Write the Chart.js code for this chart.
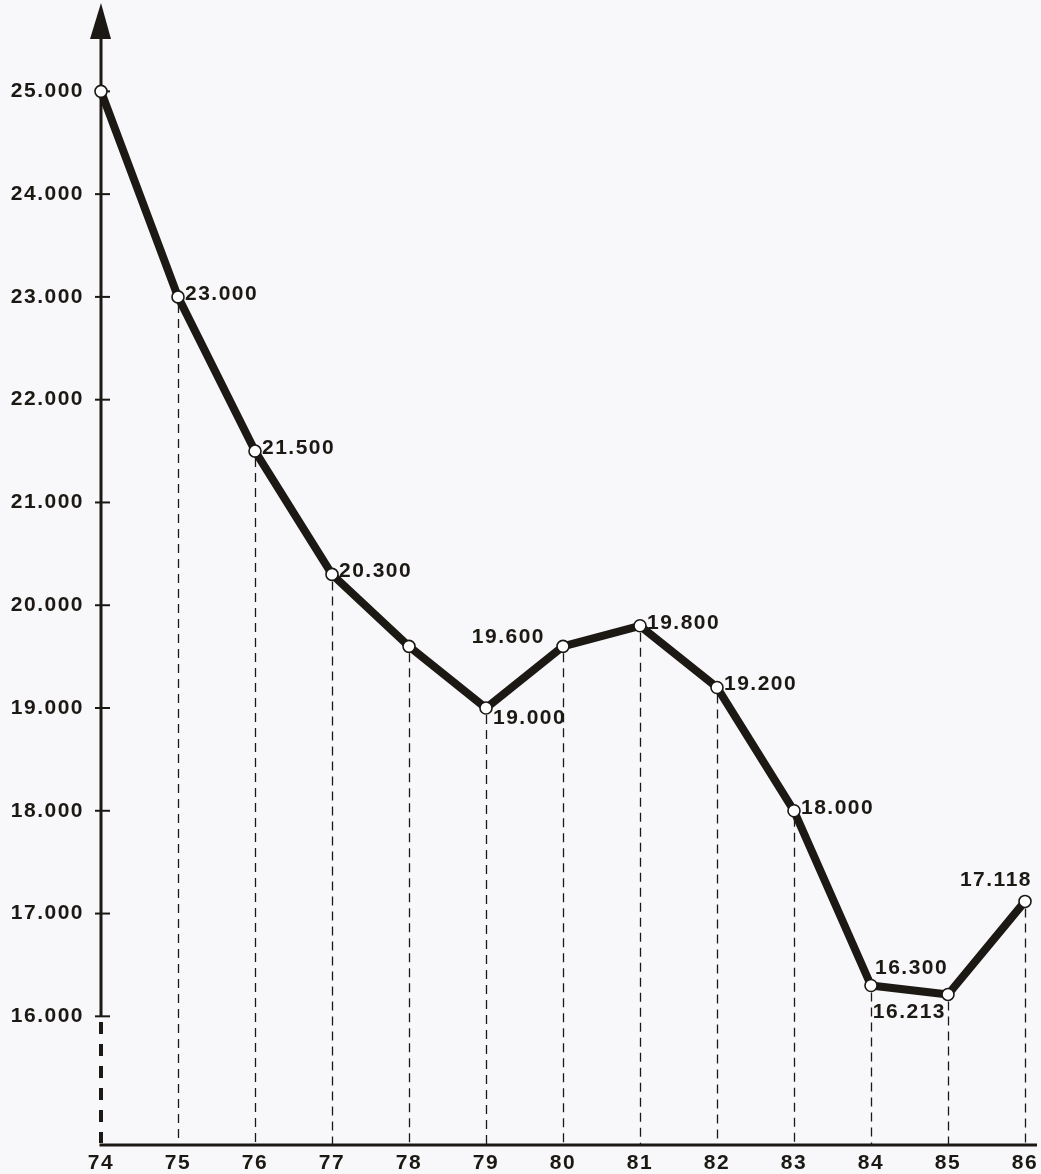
<!DOCTYPE html>
<html><head><meta charset="utf-8">
<script src="https://cdn.jsdelivr.net/npm/chart.js@4/dist/chart.umd.min.js"></script>
<style>html,body{margin:0;padding:0;background:#f8f7fa}canvas{display:block}</style>
</head><body><canvas id="c" width="1041" height="1174"></canvas>
<script>
// ---- data ----
const years = [74, 75, 76, 77, 78, 79, 80, 81, 82, 83, 84, 85, 86];
const values = [25000, 23000, 21500, 20300, 19600, 19000, 19600, 19800, 19200, 18000, 16300, 16213, 17118];
const yTickValues = [16000, 17000, 18000, 19000, 20000, 21000, 22000, 23000, 24000, 25000];
const labeledPoints = [false, true, true, true, false, true, true, true, true, true, true, true, true];

// ---- helpers ----
function fmt(v) { return String(v).replace(/\B(?=(\d{3})+(?!\d))/g, '.'); }
const INK = '#1c1915';
const FONT = 'bold 21px "Liberation Sans", Arial, sans-serif';
const SPACING = '1.5px';
// label placement (presentation only)
const placement = ['', 'r', 'r', 'r', '', 'br', 'al', 'r', 'r', 'r', 'ar', 'bl', 'a'];

const axesPlugin = {
  id: 'axesPlugin',
  afterDraw(chart) {
    const ctx = chart.ctx, xs = chart.scales.x, ys = chart.scales.y, ca = chart.chartArea;
    const x0 = Math.round(xs.getPixelForValue(years[0]));
    const yBase = Math.round(ca.bottom);
    const y16 = Math.round(ys.getPixelForValue(yTickValues[0]));
    ctx.save();
    ctx.fillStyle = '#f8f7fa';
    ctx.fillRect(x0 - 4, y16 + 2, 8, yBase - y16 - 4);
    ctx.fillStyle = INK;
    for (let y = y16 + 6; y < yBase - 2; y += 22) {
      ctx.fillRect(x0 - 2, y, 4, Math.min(12, yBase - 2 - y));
    }
    ctx.restore();
  },
  beforeDatasetsDraw(chart) {
    const ctx = chart.ctx, xs = chart.scales.x, ys = chart.scales.y, ca = chart.chartArea;
    const x0 = xs.getPixelForValue(years[0]);
    const yBase = ca.bottom;
    ctx.save();
    // drop lines
    ctx.strokeStyle = INK; ctx.lineWidth = 1.3; ctx.setLineDash([9, 6]);
    years.forEach((yr, i) => {
      if (i === 0) return;
      const px = Math.round(xs.getPixelForValue(yr)) + 0.5, py = ys.getPixelForValue(values[i]);
      ctx.beginPath(); ctx.moveTo(px, py + 7); ctx.lineTo(px, yBase); ctx.stroke();
    });
    ctx.setLineDash([]);
    // y axis solid
    const y16 = ys.getPixelForValue(yTickValues[0]);
    ctx.lineWidth = 3;
    ctx.beginPath(); ctx.moveTo(x0, 36); ctx.lineTo(x0, y16); ctx.stroke();
    // arrow
    ctx.fillStyle = INK;
    ctx.beginPath(); ctx.moveTo(x0, 3); ctx.lineTo(x0 - 11, 39); ctx.lineTo(x0 + 10, 39); ctx.closePath(); ctx.fill();
    // x axis
    ctx.lineWidth = 3;
    ctx.beginPath(); ctx.moveTo(x0 - 1.5, yBase); ctx.lineTo(1037, yBase); ctx.stroke();
    // y ticks
    ctx.lineWidth = 2;
    ctx.font = FONT; ctx.letterSpacing = SPACING;
    ctx.textAlign = 'right'; ctx.textBaseline = 'middle';
    yTickValues.forEach(v => {
      const py = ys.getPixelForValue(v);
      ctx.beginPath(); ctx.moveTo(x0 - 6, py); ctx.lineTo(x0 + 9, py); ctx.stroke();
      ctx.fillText(fmt(v), x0 - 17, py);
    });
    // x tick labels
    ctx.textAlign = 'center'; ctx.textBaseline = 'middle';
    years.forEach(yr => {
      ctx.fillText(String(yr), xs.getPixelForValue(yr), yBase + 18);
    });
    ctx.restore();
  },
  afterDatasetsDraw(chart) {
    const ctx = chart.ctx, xs = chart.scales.x, ys = chart.scales.y;
    ctx.save();
    ctx.fillStyle = INK; ctx.font = FONT; ctx.letterSpacing = SPACING;
    years.forEach((yr, i) => {
      if (!labeledPoints[i]) return;
      const px = xs.getPixelForValue(yr), py = ys.getPixelForValue(values[i]);
      const t = fmt(values[i]);
      const p = placement[i];
      ctx.textBaseline = 'middle';
      if (p === 'r') { ctx.textAlign = 'left'; ctx.fillText(t, px + 7, py - 3); }
      else if (p === 'br') { ctx.textAlign = 'left'; ctx.fillText(t, px + 7, py + 10); }
      else if (p === 'al') { ctx.textAlign = 'right'; ctx.fillText(t, px - 18, py - 9); }
      else if (p === 'ar') { ctx.textAlign = 'left'; ctx.fillText(t, px + 4, py - 17); }
      else if (p === 'bl') { ctx.textAlign = 'right'; ctx.fillText(t, px - 2, py + 18); }
      else if (p === 'a') { ctx.textAlign = 'right'; ctx.fillText(t, px + 7, py - 21); }
    });
    ctx.restore();
  }
};

new Chart(document.getElementById('c'), {
  type: 'line',
  data: {
    datasets: [{
      data: years.map((yr, i) => ({ x: yr, y: values[i] })),
      borderColor: INK,
      borderWidth: 8,
      borderJoinStyle: 'round',
      borderCapStyle: 'round',
      pointRadius: 6,
      pointBackgroundColor: '#ffffff',
      pointBorderColor: INK,
      pointBorderWidth: 1.6,
      tension: 0,
      clip: false
    }]
  },
  options: {
    responsive: false,
    animation: false,
    devicePixelRatio: 1,
    layout: { padding: { left: 101, right: 16, top: 5, bottom: 29 } },
    plugins: { legend: { display: false }, tooltip: { enabled: false } },
    scales: {
      x: { type: 'linear', min: 74, max: 86, display: false },
      y: { type: 'linear', min: 14748, max: 25815, display: false }
    }
  },
  plugins: [axesPlugin]
});
</script>
</body></html>
